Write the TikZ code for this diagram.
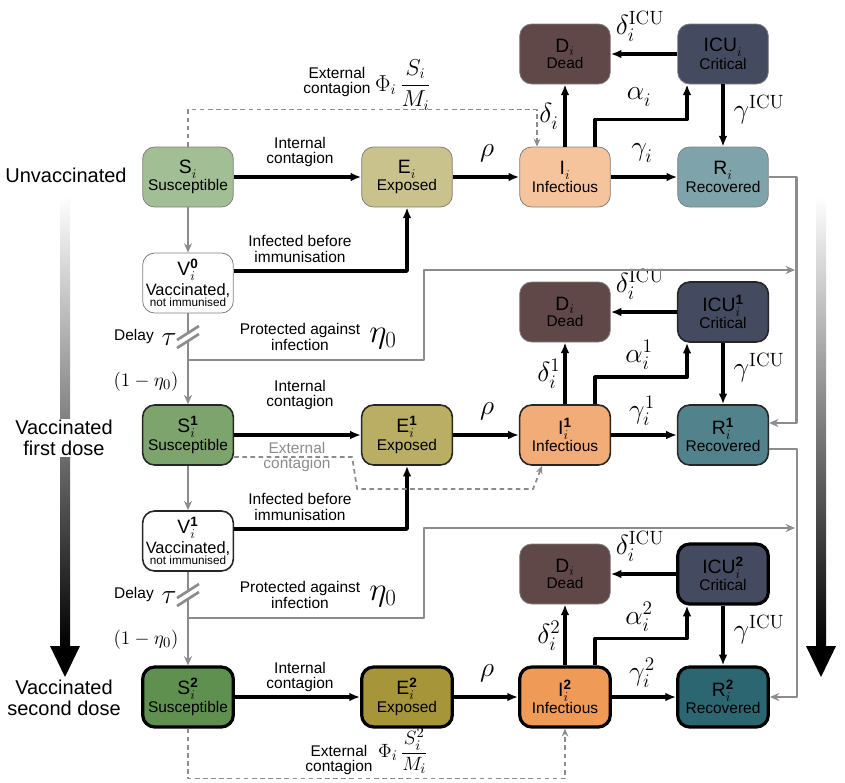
\documentclass[tikz,border=0pt]{standalone}
\usepackage{amsmath}
\usepackage[no-math]{fontspec}
\setmainfont{Liberation Sans}
\usetikzlibrary{arrows.meta}

\definecolor{sus0}{HTML}{A1BE95}
\definecolor{sus1}{HTML}{7EA46E}
\definecolor{sus2}{HTML}{609050}
\definecolor{exp0}{HTML}{CAC28D}
\definecolor{exp1}{HTML}{B9AE63}
\definecolor{exp2}{HTML}{A69639}
\definecolor{inf0}{HTML}{F6C49C}
\definecolor{inf1}{HTML}{F1AC78}
\definecolor{inf2}{HTML}{EF9A57}
\definecolor{rec0}{HTML}{7FA3AA}
\definecolor{rec1}{HTML}{52838D}
\definecolor{rec2}{HTML}{2C6671}
\definecolor{dead}{HTML}{614848}
\definecolor{crit}{HTML}{444A60}

\newcommand{\cname}[2]{{\fontsize{14.5}{14.5}\selectfont #1}\\#2}
\newcommand{\vname}[1]{{\fontsize{14.5}{14.5}\selectfont V$^{\textbf{#1}}_i$}\\[1pt]Vaccinated,\\[-4pt]{\fontsize{8.8}{8.8}\selectfont not immunised}}

\tikzset{
  box/.style={rounded corners=9pt, minimum width=68pt, minimum height=45pt, inner sep=0pt,
    align=center, font=\fontsize{11.6}{11.6}\selectfont},
  lvl0/.style={box, draw=black!50, line width=0.6pt},
  lvl1/.style={box, draw=black!85, line width=1.2pt},
  lvl2/.style={box, draw=black, line width=2.4pt},
  flow/.style={line width=2.6pt, -{Latex[length=8pt,width=6.5pt]}},
  vline/.style={draw=black!45, line width=2pt},
  vacc/.style={vline, -{Stealth[length=7pt,width=6pt]}},
  ext/.style={draw=black!45, line width=1.3pt, dash pattern=on 3.5pt off 2.6pt,
    -{Stealth[length=6pt,width=5pt]}},
  lbl/.style={align=center, font=\fontsize{11.6}{11.8}\selectfont},
  rate/.style={font=\fontsize{21}{21}\selectfont},
  side/.style={align=center, font=\fontsize{15}{15.8}\selectfont}
}

\begin{document}
\begin{tikzpicture}[x=0.75pt, y=-0.75pt, line join=round]
  \useasboundingbox (0,0) rectangle (845,782);

  % dose bars
  \shade[top color=white, bottom color=black] (60,196) rectangle (70,648);
  \fill (50,646) -- (80,646) -- (65,677) -- cycle;
  \shade[top color=white, bottom color=black] (816,196) rectangle (826,648);
  \fill (806,646) -- (836,646) -- (821,677) -- cycle;

  \node[side] (unv) at (66,175) {Unvaccinated};
  \node[side, fill=white, inner sep=1pt] (first) at (64,438) {Vaccinated\\first dose};
  \node[side] (second) at (64,698) {Vaccinated\\second dose};

  % one row per dose
  \foreach \r/\yy/\ts/\ms/\bx/\li in {0/177/{}/{}/lvl0/25, 1/435/{\textbf{1}}/1/lvl1/40, 2/697/{\textbf{2}}/2/lvl2/20} {
    \node[\bx, fill=sus\r] (S\r) at (188,\yy) {\cname{S$^{\ts}_i$}{Susceptible}};
    \node[\bx, fill=exp\r] (E\r) at (407,\yy) {\cname{E$^{\ts}_i$}{Exposed}};
    \node[\bx, fill=inf\r] (I\r) at (565,\yy) {\cname{I$^{\ts}_i$}{Infectious}};
    \node[\bx, fill=rec\r] (R\r) at (723,\yy) {\cname{R$^{\ts}_i$}{Recovered}};
    \node[lvl0, fill=dead] (D\r) at (565,\yy-123) {\cname{D$_i$}{Dead}};
    \node[\bx, fill=crit] (C\r) at (723,\yy-123) {\cname{ICU$^{\ts}_i$}{Critical}};

    \draw[flow] (S\r) -- (E\r);
    \draw[flow] (E\r) -- (I\r);
    \draw[flow] (I\r) -- (R\r);
    \draw[flow] (I\r) -- (D\r);
    \draw[flow] ([xshift=22.5pt]I\r.north) -- ++(0,-27) -| ([xshift=-27pt]C\r.south);
    \draw[flow] (C\r) -- (D\r);
    \draw[flow] (C\r) -- (R\r);

    \node[lbl] (ic\r) at (300,\yy-\li) {Internal\\contagion};
    \node[rate] (rho\r) at (487,\yy-24) {$\rho$};
    \node[rate] (gam\r) at (642,\yy-24) {$\gamma_i^{\ms}$};
    \node[rate] (del\r) at (549,\yy-61) {$\delta_i^{\ms}$};
    \node[rate] (alp\r) at (639,\yy-80) {$\alpha_i^{\ms}$};
    \node[rate] (dic\r) at (640,\yy-151) {$\delta_i^{\mathrm{ICU}}$};
    \node[rate] (gic\r) at (759,\yy-67) {$\gamma^{\mathrm{ICU}}$};
  }

  % vaccination between rows
  \foreach \k/\kk/\vy/\bx in {0/1/283/lvl0, 1/2/541/lvl1} {
    \node[\bx, fill=white, font=\fontsize{12.3}{12.3}\selectfont] (V\k) at (188,\vy) {\vname{\k}};
    \draw[vacc] (S\k) -- (V\k);
    \draw[vacc] (V\k) -- (S\kk);
    \draw[flow] ([yshift=9pt]V\k.east) -| (E\k.south);
    \node[lbl] (ib\k) at (300,\vy-34) {Infected before\\immunisation};

    \coordinate (dl\k) at (188,\vy+55);                  % delay mark
    \fill[white] ([shift={(-11,2)}]dl\k) -- ([shift={(11,-12)}]dl\k) -- ([shift={(11,-4)}]dl\k) -- ([shift={(-11,10)}]dl\k) -- cycle;
    \draw[vline] ([shift={(-11,2)}]dl\k) -- ([shift={(11,-12)}]dl\k)
                 ([shift={(-11,10)}]dl\k) -- ([shift={(11,-4)}]dl\k);
    \node[lbl] (dy\k) at (134,\vy+53) {Delay};
    \node[rate] (tau\k) at (169,\vy+57) {$\tau$};
    \node[rate, font=\fontsize{15}{15}\selectfont] (om\k) at (146,\vy+99) {$(1-\eta_0)$};

    \coordinate (pr\k) at (188,\vy+77);                  % protected branch
    \draw[vacc] (pr\k) -| ++(236,-90) -- ++(371,0);
    \node[lbl] (pa\k) at (300,\vy+54) {Protected against\\infection};
    \node[rate, font=\fontsize{23}{23}\selectfont] (et\k) at (383,\vy+56) {$\eta_0$};
  }

  % recovered carried to next dose
  \draw[vacc] (R0.east) -- ++(28,0) |- ([yshift=9pt]R1.east);
  \draw[vacc] ([yshift=-10.5pt]R1.east) -- ++(28,0) |- (R2.east);

  % external contagion
  \draw[ext] (S0.north) -- ++(0,-37) -| ([xshift=-21pt]I0.north);
  \node[lbl] (ec0) at (337,82) {External\\contagion};
  \node[rate, font=\fontsize{16}{16}\selectfont] (ph0) at (403,85) {$\Phi_i\,\dfrac{S_i}{M_i}$};
  \draw[ext] ([yshift=-16.5pt]S1.east) -- ++(118,0) -- ++(5,32) -- ++(176,0) -- ([xshift=-17.25pt]I1.south);
  \node[lbl, text=black!45] (ec1) at (297,457) {External\\contagion};
  \draw[ext] (S2.south) -- ++(0,50) -| (I2.south);
  \node[lbl] (ec2) at (339,760) {External\\contagion};
  \node[rate, font=\fontsize{15.5}{15.5}\selectfont] (ph2) at (403,751) {$\Phi_i\,\dfrac{S_i^2}{M_i}$};
\end{tikzpicture}
\end{document}
